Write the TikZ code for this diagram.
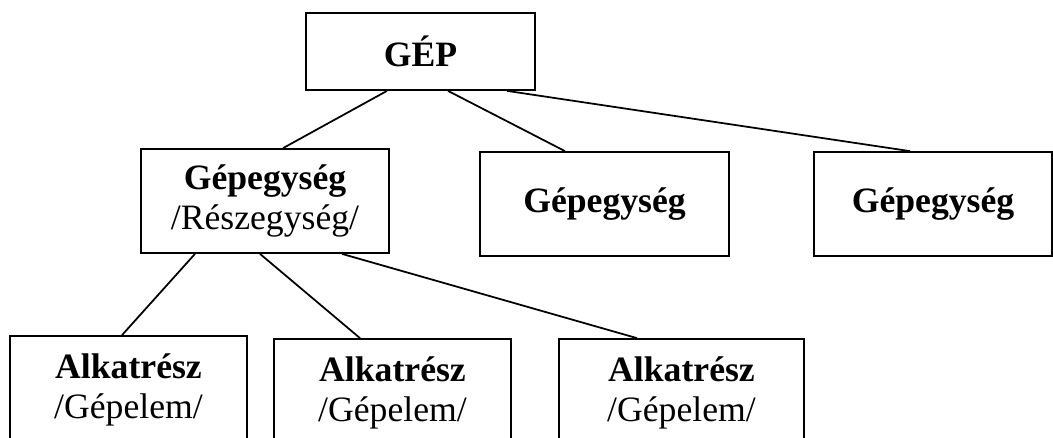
\documentclass[tikz,border=0pt]{standalone}
\usepackage{fontspec}
\setmainfont{Liberation Serif}
\usetikzlibrary{calc}

\begin{document}
\begin{tikzpicture}[x=0.02cm,y=-0.02cm,
    every node/.style={font=\fontsize{20.3}{22.7}\selectfont},
    unit/.style={draw,line width=1pt,inner sep=0pt,align=center},
    link/.style={line width=1pt}]

      \useasboundingbox (0,0) rectangle (1053,437);
      \clip (0,0) rectangle (1053,437);

      % the machine on top
      \node[unit,minimum width=4.58cm,minimum height=1.54cm] (gep) at (420.5,51.5) {\textbf{GÉP}};

      % 3 machine units in the middle row
      \node[unit,minimum width=4.96cm,minimum height=2.08cm] (gu1) at (265,201)
        {\textbf{Gépegység}\\/Részegység/};
      \node[unit,minimum width=4.98cm,minimum height=2.08cm] (gu2) at (604.5,204) {\textbf{Gépegység}};
      \node[unit,minimum width=4.76cm,minimum height=2.08cm] (gu3) at (933,204) {\textbf{Gépegység}};

      % 3 parts in the bottom row, cut off at the bottom
      \foreach \i/\x/\y/\w in {1/128.5/390/4.74cm, 2/392.5/393/4.74cm, 3/681.5/393/4.90cm} {
        \node[unit,minimum width=\w,minimum height=2.16cm] (al\i) at (\x,\y)
          {\textbf{Alkatrész}\\/Gépelem/};
      }

      \draw[link] ($(gep.south)+(-33.5,0)$) -- ($(gu1.north)+(18,0)$);
      \draw[link] ($(gep.south)+(27.5,0)$) -- ($(gu2.north)+(-39.5,0)$);
      \draw[link] ($(gep.south)+(86.5,0)$) -- ($(gu3.north)+(-23,0)$);

      \draw[link] ($(gu1.south)+(-70,0)$) -- ($(al1.north)+(-6.5,0)$);
      \draw[link] ($(gu1.south)+(-5,0)$) -- ($(al2.north)+(-32.5,0)$);
      \draw[link] ($(gu1.south)+(77,0)$) -- ($(al3.north)+(-44.5,0)$);

\end{tikzpicture}
\end{document}
